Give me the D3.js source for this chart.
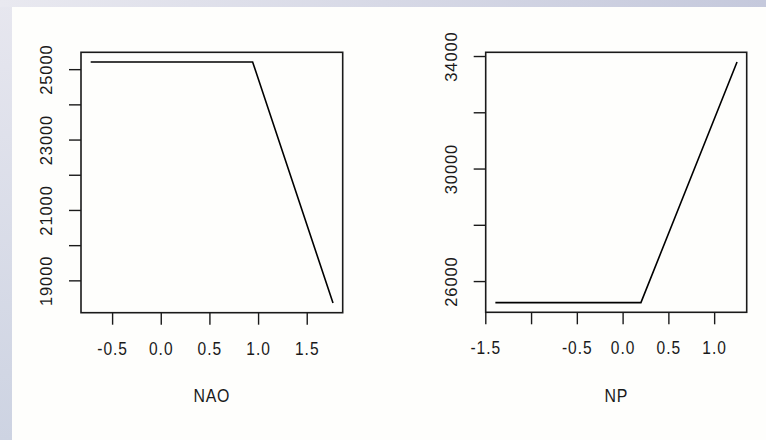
<!DOCTYPE html>
<html>
<head>
<meta charset="utf-8">
<script src="https://cdn.jsdelivr.net/npm/d3@7/dist/d3.min.js"></script>
<style>
  html, body { margin: 0; padding: 0; background: #fefefc; }
  svg { display: block; }
  text { font-family: "Liberation Sans", Arial, sans-serif; fill: #1a1a1a; }
</style>
</head>
<body>
<div id="chart"></div>
<script>
// ---- data ----
const naoX = [-0.72, 0.944, 1.77];
const naoY = [25205, 25205, 18355];
const npX = [-1.39, 0.2, 1.25];
const npY = [25232, 25232, 33790];

const naoXTicks = [-0.5, 0.0, 0.5, 1.0, 1.5];
const naoXLabels = ["-0.5", "0.0", "0.5", "1.0", "1.5"];
const naoYTicks = [19000, 20000, 21000, 22000, 23000, 24000, 25000];
const naoYLabels = ["19000", "", "21000", "", "23000", "", "25000"];

const npXTicks = [-1.5, -1.0, -0.5, 0.0, 0.5, 1.0];
const npXLabels = ["-1.5", "", "-0.5", "0.0", "0.5", "1.0"];
const npYTicks = [26000, 28000, 30000, 32000, 34000];
const npYLabels = ["26000", "", "30000", "", "34000"];

const W = 766, H = 440;
const svg = d3.select("#chart").append("svg").attr("width", W).attr("height", H);

// background frame (slide-like gradient borders)
const defs = svg.append("defs");
const gTop = defs.append("linearGradient").attr("id", "gTop").attr("x1", 0).attr("x2", 1).attr("y1", 0).attr("y2", 0);
gTop.append("stop").attr("offset", "0%").attr("stop-color", "#e9e9f0");
gTop.append("stop").attr("offset", "100%").attr("stop-color", "#c5c9dc");
const gLeft = defs.append("linearGradient").attr("id", "gLeft").attr("x1", 0).attr("x2", 0).attr("y1", 0).attr("y2", 1);
gLeft.append("stop").attr("offset", "0%").attr("stop-color", "#e7e7ef");
gLeft.append("stop").attr("offset", "100%").attr("stop-color", "#cdd3e2");

svg.append("rect").attr("x", 0).attr("y", 0).attr("width", W).attr("height", H).attr("fill", "url(#gLeft)");
svg.append("rect").attr("x", 0).attr("y", 0).attr("width", W).attr("height", 7).attr("fill", "url(#gTop)");
svg.append("rect").attr("x", 12).attr("y", 7).attr("width", W - 12).attr("height", H - 7).attr("fill", "#fefefc");

function extent4(arr) {
  const mn = d3.min(arr), mx = d3.max(arr), e = (mx - mn) * 0.04;
  return [mn - e, mx + e];
}

function panel(opts) {
  const { left, right, top, bottom, xs, ys, xTicks, xLabels, yTicks, yLabels, title } = opts;
  const x = d3.scaleLinear().domain(extent4(xs)).range([left, right]);
  const y = d3.scaleLinear().domain(extent4(ys)).range([bottom, top]);
  const g = svg.append("g");

  // x axis
  const xa = g.append("g").attr("transform", `translate(0,${bottom})`)
    .call(d3.axisBottom(x).tickValues(xTicks).tickSize(12).tickPadding(17)
      .tickFormat((d, i) => xLabels[i]));
  xa.select(".domain").remove();
  xa.selectAll("line").attr("stroke", "#1a1a1a").attr("stroke-width", 1.4);
  xa.selectAll("text").style("font-size", "18.5px").style("letter-spacing", "1.2px")
    .attr("transform", "scale(0.84,1)").attr("fill", "#1a1a1a");

  // y axis
  const ya = g.append("g").attr("transform", `translate(${left},0)`)
    .call(d3.axisLeft(y).tickValues(yTicks).tickSize(12).tickFormat((d, i) => yLabels[i]));
  ya.select(".domain").remove();
  ya.selectAll("line").attr("stroke", "#1a1a1a").attr("stroke-width", 1.4);
  ya.selectAll("text")
    .attr("x", null).attr("dy", null)
    .attr("transform", "translate(-29,0) rotate(-90)")
    .attr("text-anchor", "middle")
    .style("font-size", "16.5px").style("letter-spacing", "0.9px")
    .attr("fill", "#1a1a1a");

  // box
  g.append("rect").attr("x", left).attr("y", top).attr("width", right - left).attr("height", bottom - top)
    .attr("fill", "none").attr("stroke", "#1a1a1a").attr("stroke-width", 1.6);

  // line
  const line = d3.line().x((d, i) => x(xs[i])).y((d, i) => y(ys[i]));
  g.append("path").datum(xs).attr("d", line).attr("fill", "none")
    .attr("stroke", "#000").attr("stroke-width", 1.6);

  // x title
  const cx = (left + right) / 2;
  g.append("text").attr("transform", `translate(${cx},401.5) scale(0.86,1)`).attr("text-anchor", "middle")
    .style("font-size", "18.5px").style("letter-spacing", "0.8px").text(title);
}

panel({ left: 81, right: 342.7, top: 52.3, bottom: 312.7, xs: naoX, ys: naoY,
  xTicks: naoXTicks, xLabels: naoXLabels, yTicks: naoYTicks, yLabels: naoYLabels, title: "NAO" });
panel({ left: 485.7, right: 746.7, top: 52.3, bottom: 312.3, xs: npX, ys: npY,
  xTicks: npXTicks, xLabels: npXLabels, yTicks: npYTicks, yLabels: npYLabels, title: "NP" });
</script>
</body>
</html>
